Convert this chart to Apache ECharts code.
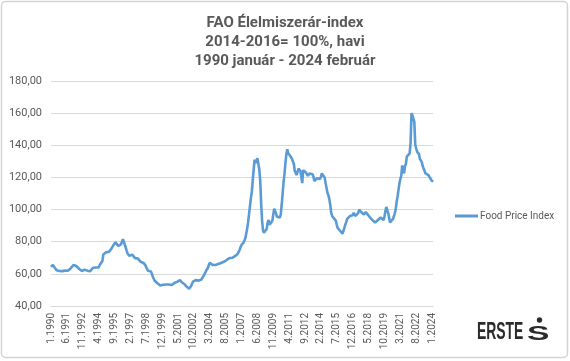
<!DOCTYPE html>
<html>
<head>
<meta charset="utf-8">
<script src="https://cdn.jsdelivr.net/npm/echarts@6/dist/echarts.min.js"></script>
<style>
html,body{margin:0;padding:0;background:#fff;}
#c{width:570px;height:361px;}
</style>
</head>
<body>
<div id="c"></div>
<script>
const titleLines = ['FAO Élelmiszerár-index', '2014-2016= 100%, havi', '1990 január - 2024 február'];
const seriesName = 'Food Price Index';
const startYear = 1990;
const yTicks = { min: 40, max: 180, interval: 20 };

const v1990 = [64.3, 64.9, 65.6, 64.8, 63.8, 63.0, 62.3, 61.9, 61.7, 61.8, 61.6, 61.5];
const v1991 = [61.7, 61.4, 61.8, 62.0, 61.6, 61.5, 61.9, 62.3, 63.0, 63.4, 63.7, 64.2];
const v1992 = [65.5, 65.0, 64.7, 64.9, 64.6, 64.0, 63.2, 62.8, 62.3, 61.8, 61.6, 62.2];
const v1993 = [62.6, 63.0, 62.6, 62.0, 61.7, 61.5, 61.6, 62.0, 62.5, 63.8, 64.3, 64.2];
const v1994 = [64.0, 64.4, 64.2, 64.0, 65.4, 64.6, 65.0, 68.0, 72.0, 72.6, 72.3, 73.5];
const v1995 = [73.8, 74.0, 73.6, 74.3, 74.6, 76.0, 77.0, 78.0, 78.9, 79.6, 80.0, 78.6];
const v1996 = [77.4, 77.8, 78.6, 78.3, 80.2, 81.6, 81.0, 80.6, 76.4, 74.5, 72.7, 71.8];
const v1997 = [71.2, 71.3, 71.5, 72.0, 72.7, 71.5, 69.8, 69.6, 69.3, 69.6, 69.8, 68.6];
const v1998 = [67.5, 67.3, 67.0, 66.8, 66.4, 65.5, 64.0, 63.0, 61.9, 61.8, 61.8, 61.5];
const v1999 = [60.0, 58.2, 57.0, 55.7, 55.0, 54.5, 54.2, 53.7, 53.2, 52.8, 52.4, 52.8];
const v2000 = [53.2, 53.5, 53.6, 53.4, 53.5, 53.7, 53.4, 53.0, 52.6, 53.0, 53.5, 54.0];
const v2001 = [54.3, 54.5, 54.7, 55.0, 55.4, 55.8, 56.1, 55.8, 54.8, 54.5, 54.2, 53.5];
const v2002 = [53.0, 52.2, 51.6, 51.2, 50.8, 51.3, 52.4, 53.5, 55.1, 55.5, 55.8, 56.1];
const v2003 = [55.8, 56.0, 55.8, 55.7, 56.0, 56.5, 56.8, 57.5, 59.3, 60.5, 61.8, 62.4];
const v2004 = [63.8, 65.5, 66.9, 67.0, 66.1, 65.6, 65.0, 65.2, 65.5, 65.4, 65.8, 66.1];
const v2005 = [66.4, 66.3, 66.8, 66.6, 67.0, 67.5, 68.0, 68.0, 68.6, 69.1, 69.5, 69.8];
const v2006 = [70.1, 70.3, 70.0, 70.5, 70.9, 71.0, 71.5, 72.0, 72.5, 73.0, 75.0, 76.7];
const v2007 = [78.0, 78.8, 79.3, 80.2, 82.0, 85.0, 88.0, 92.0, 97.0, 102.0, 107.0, 111.0];
const v2008 = [118.0, 125.0, 131.0, 129.0, 129.5, 132.0, 131.0, 125.0, 118.0, 104.0, 93.0, 87.0];
const v2009 = [85.5, 84.5, 85.0, 88.0, 92.0, 93.5, 90.5, 91.5, 90.5, 93.0, 97.0, 100.5];
const v2010 = [100.0, 97.5, 95.5, 95.8, 95.5, 95.0, 97.0, 103.0, 110.0, 117.0, 122.0, 129.0];
const v2011 = [134.5, 137.5, 135.0, 134.5, 133.5, 133.0, 131.5, 131.0, 128.5, 124.0, 123.0, 121.5];
const v2012 = [123.5, 125.5, 125.0, 124.0, 120.5, 116.5, 124.5, 124.5, 124.0, 123.0, 122.0, 121.0];
const v2013 = [121.5, 122.5, 122.0, 122.3, 122.0, 120.5, 117.8, 117.0, 118.5, 119.5, 119.0, 118.5];
const v2014 = [119.0, 120.5, 122.5, 122.0, 121.5, 120.0, 116.5, 113.5, 110.5, 109.0, 106.5, 103.0];
const v2015 = [98.0, 96.0, 95.0, 94.5, 94.0, 93.0, 90.5, 88.5, 87.5, 88.5, 86.5, 85.5];
const v2016 = [85.0, 86.5, 88.5, 90.5, 92.0, 94.0, 95.0, 94.5, 96.0, 96.5, 97.0, 96.5];
const v2017 = [98.0, 97.5, 96.0, 95.5, 97.0, 98.0, 100.0, 99.0, 98.5, 98.0, 97.5, 97.0];
const v2018 = [97.5, 98.5, 98.0, 97.0, 96.0, 95.5, 94.5, 94.4, 93.5, 93.0, 92.3, 92.0];
const v2019 = [92.5, 93.0, 93.5, 94.0, 94.5, 95.0, 95.4, 94.5, 93.5, 95.5, 99.0, 101.6];
const v2020 = [101.0, 98.0, 95.0, 92.0, 91.5, 92.5, 94.0, 95.5, 97.5, 100.0, 104.5, 108.0];
const v2021 = [112.0, 116.0, 119.0, 121.0, 127.5, 124.5, 122.5, 127.0, 128.5, 133.0, 134.0, 133.0];
const v2022 = [135.0, 141.5, 160.0, 158.5, 157.5, 154.5, 140.5, 138.0, 136.0, 135.0, 134.5, 131.5];
const v2023 = [130.5, 129.5, 127.0, 127.5, 124.0, 122.5, 123.5, 121.5, 121.5, 120.5, 120.5, 118.5];
const v2024 = [118.0, 117.3];

const values = [].concat(v1990, v1991, v1992, v1993, v1994, v1995, v1996, v1997, v1998, v1999,
  v2000, v2001, v2002, v2003, v2004, v2005, v2006, v2007, v2008, v2009,
  v2010, v2011, v2012, v2013, v2014, v2015, v2016, v2017, v2018, v2019,
  v2020, v2021, v2022, v2023, v2024);

const categories = values.map((_, i) => ((i % 12) + 1) + '.' + (startYear + Math.floor(i / 12)));

const textColor = '#595959';
const font = 'Roboto, "Noto Sans", Arial, sans-serif';

const chart = echarts.init(document.getElementById('c'), null, { renderer: 'canvas' });
chart.setOption({
  animation: false,
  backgroundColor: '#ffffff',
  title: {
    text: titleLines.join('\n'),
    left: 'center',
    top: 9,
    textStyle: { color: textColor, fontSize: 15, fontWeight: 'bold', fontFamily: font, lineHeight: 19 }
  },
  legend: {
    data: [seriesName],
    left: 450,
    top: 206,
    orient: 'vertical',
    icon: 'rect',
    itemWidth: 23,
    itemHeight: 3,
    textStyle: { color: textColor, fontSize: 10, fontFamily: font, padding: [0, 0, 0, -3] }
  },
  grid: { left: 51, right: 137, top: 81, bottom: 55, containLabel: false },
  xAxis: {
    type: 'category',
    data: categories,
    boundaryGap: false,
    axisLine: { show: true, lineStyle: { color: '#d9d9d9', width: 1 } },
    axisTick: { show: false },
    axisLabel: {
      interval: 16,
      rotate: 90,
      color: textColor,
      fontSize: 10,
      fontFamily: font,
      margin: 7
    },
    splitLine: { show: false }
  },
  yAxis: {
    type: 'value',
    min: yTicks.min,
    max: yTicks.max,
    interval: yTicks.interval,
    axisLine: { show: false },
    axisTick: { show: false },
    axisLabel: {
      color: textColor,
      fontSize: 11,
      fontFamily: font,
      margin: 9,
      formatter: v => v.toFixed(2).replace('.', ',')
    },
    splitLine: { lineStyle: { color: '#d9d9d9', width: 1 } }
  },
  series: [{
    name: seriesName,
    type: 'line',
    data: values,
    showSymbol: false,
    symbol: 'none',
    lineStyle: { color: '#5b9bd5', width: 2.6 },
    itemStyle: { color: '#5b9bd5' }
  }],
  graphic: [
    {
      type: 'rect',
      shape: { x: 1.5, y: 1.5, width: 566, height: 356, r: 4 },
      style: { fill: 'none', stroke: '#d4d4d4', lineWidth: 1.5 },
      silent: true
    },
    {
      type: 'text',
      x: 477,
      y: 320,
      scaleX: 0.58,
      style: { text: 'ERSTE', fill: '#2b2b2b', font: 'bold 24px "Liberation Sans", Arial, sans-serif' }
    },
    {
      type: 'text',
      x: 527,
      y: 324,
      scaleX: 1.6,
      style: { text: 'S', fill: '#2b2b2b', font: 'bold 21px "Liberation Sans", Arial, sans-serif' }
    },
    {
      type: 'circle',
      shape: { cx: 539.5, cy: 320, r: 2.7 },
      style: { fill: '#2b2b2b' }
    }
  ]
});
</script>
</body>
</html>
